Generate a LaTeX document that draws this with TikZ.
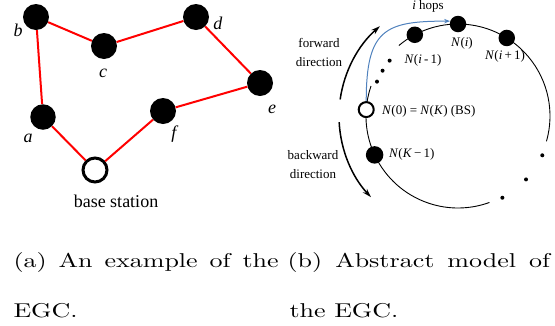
\documentclass[tikz,border=0pt]{standalone}
\usepackage{fontspec}
\newfontfamily\timesfont{Liberation Serif}
\usetikzlibrary{arrows.meta, positioning, calc}
\definecolor{hopblue}{RGB}{79,129,189}

\begin{document}
\begin{tikzpicture}[
  x=1pt, y=1pt,
  sensor/.style={circle, fill=black, minimum size=26pt, inner sep=0pt},
  sink/.style={circle, draw=black, line width=3pt, fill=white, minimum size=24pt, inner sep=0pt},
  link/.style={draw=red, line width=2pt},
  lbl/.style={font=\timesfont\fontsize{18}{20}\selectfont, inner sep=0pt, anchor=base},
  ring/.style={line width=0.9pt},
  hopnode/.style={circle, fill=black, minimum size=16.5pt, inner sep=0pt},
  bsnode/.style={circle, draw=black, line width=2pt, fill=white, minimum size=15pt, inner sep=0pt},
  dotmark/.style={circle, fill=black, minimum size=4pt, inner sep=0pt},
  txt/.style={font=\timesfont\fontsize{13}{19}\selectfont, inner sep=0pt},
  dirarrow/.style={line width=1.5pt, -{Stealth[length=9pt, width=5.5pt]}},
  hoparrow/.style={draw=hopblue, line width=1pt, -{Stealth[length=6pt, width=4.5pt]}},
  capt/.style={font=\fontsize{10}{12}\selectfont, xscale=2.6, yscale=2.0, inner sep=0pt, anchor=base west}
]
\useasboundingbox (0,0) rectangle (555,-325);

% (a) example network
\node[sensor] (b) at (36,-17) {};
\node[sensor] (c) at (104,-46) {};
\node[sensor] (d) at (196,-17) {};
\node[sensor] (e) at (260,-83) {};
\node[sensor] (f) at (163,-111) {};
\node[sensor, minimum size=25.5pt] (a) at (43,-117) {};
\node[sink] (bs) at (95,-170) {};

\draw[link] (b) -- (c) -- (d) -- (e) -- (f) -- (bs) -- (a) -- (b);

\node[lbl] (lb) at (18,-36) {\textit{b}};
\node[lbl] (lc) at (103,-77) {\textit{c}};
\node[lbl] (ld) at (218,-29) {\textit{d}};
\node[lbl] (le) at (272,-113) {\textit{e}};
\node[lbl] (lf) at (175,-138) {\textit{f}};
\node[lbl] (la) at (28,-142) {\textit{a}};
\node[lbl] (lbs) at (116,-207) {base station};

% (b) abstract ring model
\coordinate (O) at (458,-116);
\draw[ring] ([shift={(130:92)}]O) arc[start angle=130, end angle=-16, radius=92];
\draw[ring] ([shift={(161:92)}]O) arc[start angle=161, end angle=290, radius=92];

\foreach \a [count=\k] in {157,149,141}
  \node[dotmark] (gapl\k) at ([shift={(\a:88)}]O) {};
\foreach \a [count=\k] in {-25,-43,-61.5}
  \node[dotmark] (gapr\k) at ([shift={(\a:93)}]O) {};

\node[hopnode] (Nim) at ([shift={(118:92)}]O) {};
\node[hopnode] (Ni) at ([shift={(90:92)}]O) {};
\node[hopnode] (Nip) at ([shift={(58:92)}]O) {};
\node[bsnode] (N0) at ([shift={(176:92)}]O) {};
\node[hopnode, minimum size=17.5pt] (NK) at ([shift={(205:92)}]O) {};

\node[txt, anchor=base] (lNim) at (423,-63) {\textit{N}(\textit{i}\,-\,1)};
\node[txt, anchor=base] (lNi) at (462,-46.5) {\textit{N}(\textit{i})};
\node[txt, anchor=base] (lNip) at (505,-59) {\textit{N}(\textit{i}\,+\,1)};
\node[txt, anchor=base west] (lN0) at (382,-114.5) {\textit{N}(0) = \textit{N}(\textit{K}) (BS)};
\node[txt, anchor=base west] (lNK) at (389,-157.5) {\textit{N}(\textit{K}\,−\,1)};

\node[txt, anchor=base] (lhops) at (428,-9) {\textit{i} hops};
\node[txt, align=center] (lfwd) at (319,-52.5) {forward\\direction};
\node[txt, align=center] (lbwd) at (313,-164.5) {backward\\direction};

% direction arrows
\draw[dirarrow] ([shift={(172:119)}]O) arc[start angle=172, end angle=131, radius=119];
\draw[dirarrow] ([shift={(183:119)}]O) arc[start angle=183, end angle=223, radius=119];
\draw[hoparrow] (N0.north) .. controls +(0,72) and +(-65,0) .. (Ni.160);

% captions
\node[capt] (capa1) at (13,-267) {\makebox[102pt][s]{(a) An example of the}};
\node[capt] (capa2) at (13,-317) {EGC.};
\node[capt] (capb1) at (287,-267) {\makebox[101pt][s]{(b) Abstract model of}};
\node[capt] (capb2) at (289,-317) {the EGC.};

\end{tikzpicture}
\end{document}
